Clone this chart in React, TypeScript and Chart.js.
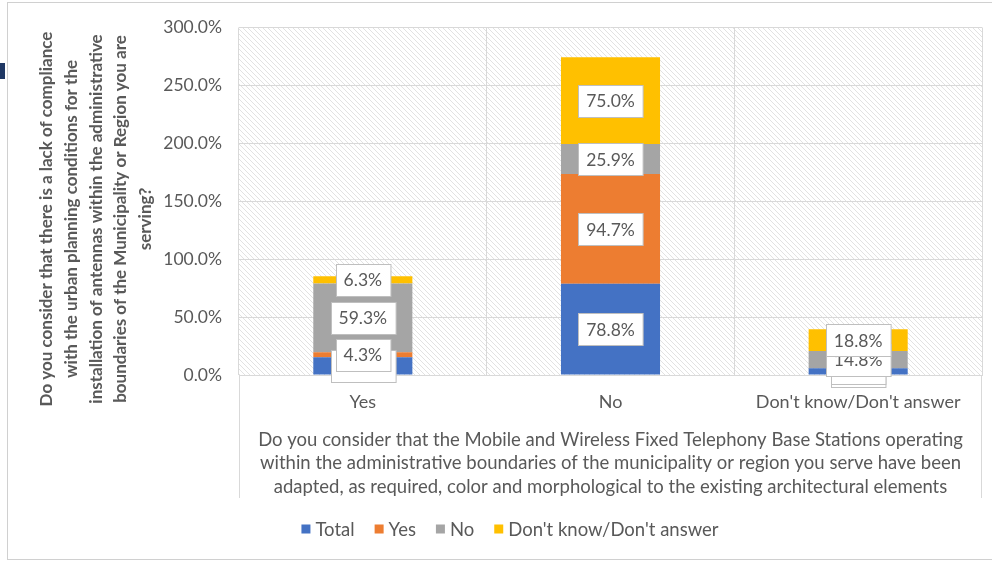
import React, { useEffect, useRef } from "react";
import { Chart, registerables } from "chart.js";

Chart.register(...registerables);

const categories = ["Yes", "No", "Don't know/Don't answer"];
const seriesNames = ["Total", "Yes", "No", "Don't know/Don't answer"];
const totalValues = [15.4, 78.8, 5.9];
const yesValues = [4.3, 94.7, 0.0];
const noValues = [59.3, 25.9, 14.8];
const dkValues = [6.3, 75.0, 18.8];
const seriesColors = ["#4472C4", "#ED7D31", "#A5A5A5", "#FFC000"];
const yTicks = [0, 50, 100, 150, 200, 250, 300];
const yTitleLines = [
  "Do you consider that there is a lack of compliance",
  "with the urban planning conditions for the",
  "installation of antennas within the administrative",
  "boundaries of the Municipality or Region you are",
  "serving?",
];
const xTitleLines = [
  "Do you consider that the Mobile and Wireless Fixed Telephony Base Stations operating",
  "within the administrative boundaries of the municipality or region you serve have been",
  "adapted, as required, color and morphological to the existing architectural elements",
];

const FONT = "Lato, 'Open Sans', sans-serif";
const TEXT = "#595959";
const GRID = "#d9d9d9";

function makeHatch(): CanvasPattern | string {
  const c = document.createElement("canvas");
  c.width = 5;
  c.height = 5;
  const g = c.getContext("2d");
  if (!g) return "#fff";
  g.fillStyle = "#ffffff";
  g.fillRect(0, 0, 5, 5);
  g.strokeStyle = "#e2e2e2";
  g.lineWidth = 1;
  g.beginPath();
  g.moveTo(-1, -1);
  g.lineTo(6, 6);
  g.moveTo(-1, 4);
  g.lineTo(1, 6);
  g.moveTo(4, -1);
  g.lineTo(6, 1);
  g.stroke();
  const p = g.createPattern(c, "repeat");
  return p || "#fff";
}

export default function App() {
  const ref = useRef<HTMLCanvasElement | null>(null);

  useEffect(() => {
    let chart: Chart | null = null;
    let cancelled = false;
    const build = () => {
      if (cancelled || !ref.current) return;
      const hatch = makeHatch();
      const plugin = {
        id: "custom",
        beforeDraw(c: any) {
          const { ctx, chartArea } = c;
          ctx.save();
          ctx.fillStyle = "#fff";
          ctx.fillRect(0, 0, c.width, c.height);
          ctx.fillStyle = hatch;
          ctx.fillRect(chartArea.left, chartArea.top, chartArea.right - chartArea.left, chartArea.bottom - chartArea.top);
          ctx.restore();
        },
        afterDatasetsDraw(c: any) {
          const { ctx } = c;
          ctx.save();
          ctx.font = `17.5px ${FONT}`;
          ctx.textAlign = "center";
          ctx.textBaseline = "middle";
          c.data.datasets.forEach((ds: any, di: number) => {
            const meta = c.getDatasetMeta(di);
            meta.data.forEach((el: any, i: number) => {
              const v = ds.data[i];
              const txt = v.toFixed(1) + "%";
              const cy = (el.y + el.base) / 2;
              const w = ctx.measureText(txt).width + 16;
              const h = 32;
              const x0 = Math.round(el.x - w / 2) + 0.5;
              const y0 = Math.round(cy - h / 2) + 0.5;
              ctx.fillStyle = "#fff";
              ctx.fillRect(x0, y0, w, h);
              ctx.strokeStyle = "#bfbfbf";
              ctx.lineWidth = 1;
              ctx.strokeRect(x0, y0, w, h);
              ctx.fillStyle = TEXT;
              ctx.fillText(txt, el.x, cy + 1);
            });
          });
          ctx.restore();
        },
        afterDraw(c: any) {
          const { ctx, chartArea } = c;
          ctx.save();
          // category box extension lines
          ctx.strokeStyle = GRID;
          ctx.lineWidth = 1;
          ctx.beginPath();
          ctx.moveTo(chartArea.left + 0.5, chartArea.bottom);
          ctx.lineTo(chartArea.left + 0.5, 498);
          ctx.moveTo(chartArea.right - 0.5, chartArea.bottom);
          ctx.lineTo(chartArea.right - 0.5, 498);
          ctx.stroke();
          // outer frame
          ctx.strokeStyle = "#d0d0d0";
          ctx.strokeRect(7.5, 2.5, 1000, 557);
          // x title
          ctx.fillStyle = TEXT;
          ctx.font = `18.5px ${FONT}`;
          ctx.textAlign = "center";
          ctx.textBaseline = "middle";
          const cx = (chartArea.left + chartArea.right) / 2;
          xTitleLines.forEach((l, i) => ctx.fillText(l, cx, 440 + i * 23.5));
          // y title
          ctx.font = `bold 17px ${FONT}`;
          ctx.translate(0, 219);
          ctx.rotate(-Math.PI / 2);
          yTitleLines.forEach((l, i) => ctx.fillText(l, 0, 47 + i * 24.6));
          ctx.setTransform(1, 0, 0, 1, 0, 0);
          // legend
          ctx.font = `18.5px ${FONT}`;
          ctx.textAlign = "left";
          const gap = 20;
          const box = 9;
          const widths = seriesNames.map((n) => box + 5 + ctx.measureText(n).width);
          const total = widths.reduce((a, b) => a + b, 0) + gap * (seriesNames.length - 1);
          let x = 510 - total / 2;
          const ly = 529;
          seriesNames.forEach((n, i) => {
            ctx.fillStyle = seriesColors[i];
            ctx.fillRect(x, ly - 4.5, box, box);
            ctx.fillStyle = TEXT;
            ctx.fillText(n, x + box + 5, ly + 1);
            x += widths[i] + gap;
          });
          ctx.restore();
        },
      };

      const seriesData = [totalValues, yesValues, noValues, dkValues];
      chart = new Chart(ref.current, {
        type: "bar",
        data: {
          labels: categories,
          datasets: seriesNames.map((n, i) => ({
            label: n,
            data: seriesData[i],
            backgroundColor: seriesColors[i],
            borderWidth: 0,
            barPercentage: 0.4,
            categoryPercentage: 1,
          })),
        },
        options: {
          responsive: false,
          animation: false,
          layout: { padding: { left: 8, right: 10, top: 25, bottom: 0 } },
          plugins: { legend: { display: false }, tooltip: { enabled: false } },
          scales: {
            x: {
              stacked: true,
              grid: { offset: true, color: GRID, drawTicks: false },
              border: { color: GRID },
              ticks: { color: TEXT, font: { family: FONT, size: 18 }, padding: 16 },
              afterFit: (s: any) => {
                s.height = 187;
              },
            },
            y: {
              stacked: true,
              min: 0,
              max: 300,
              afterBuildTicks: (s: any) => {
                s.ticks = yTicks.map((v) => ({ value: v }));
              },
              grid: { color: GRID, drawTicks: false },
              border: { display: false },
              ticks: {
                color: TEXT,
                font: { family: FONT, size: 17.5 },
                padding: 17,
                callback: (v: any) => Number(v).toFixed(1) + "%",
              },
              afterFit: (s: any) => {
                s.width = 231;
              },
            },
          },
        },
        plugins: [plugin],
      });
    };
    const fonts = (document as any).fonts;
    if (fonts && fonts.load) {
      Promise.all([fonts.load(`17px Lato`), fonts.load(`bold 15px Lato`)])
        .catch(() => null)
        .then(build);
    } else build();
    return () => {
      cancelled = true;
      if (chart) chart.destroy();
    };
  }, []);

  return (
    <div style={{ position: "absolute", left: 0, top: 0, width: 992, height: 562, background: "#fff", overflow: "hidden" }}>
      <canvas ref={ref} width={992} height={562} style={{ display: "block" }} />
      <div style={{ position: "absolute", left: 0, top: 63, width: 5, height: 16, background: "#1F3864" }} />
    </div>
  );
}
